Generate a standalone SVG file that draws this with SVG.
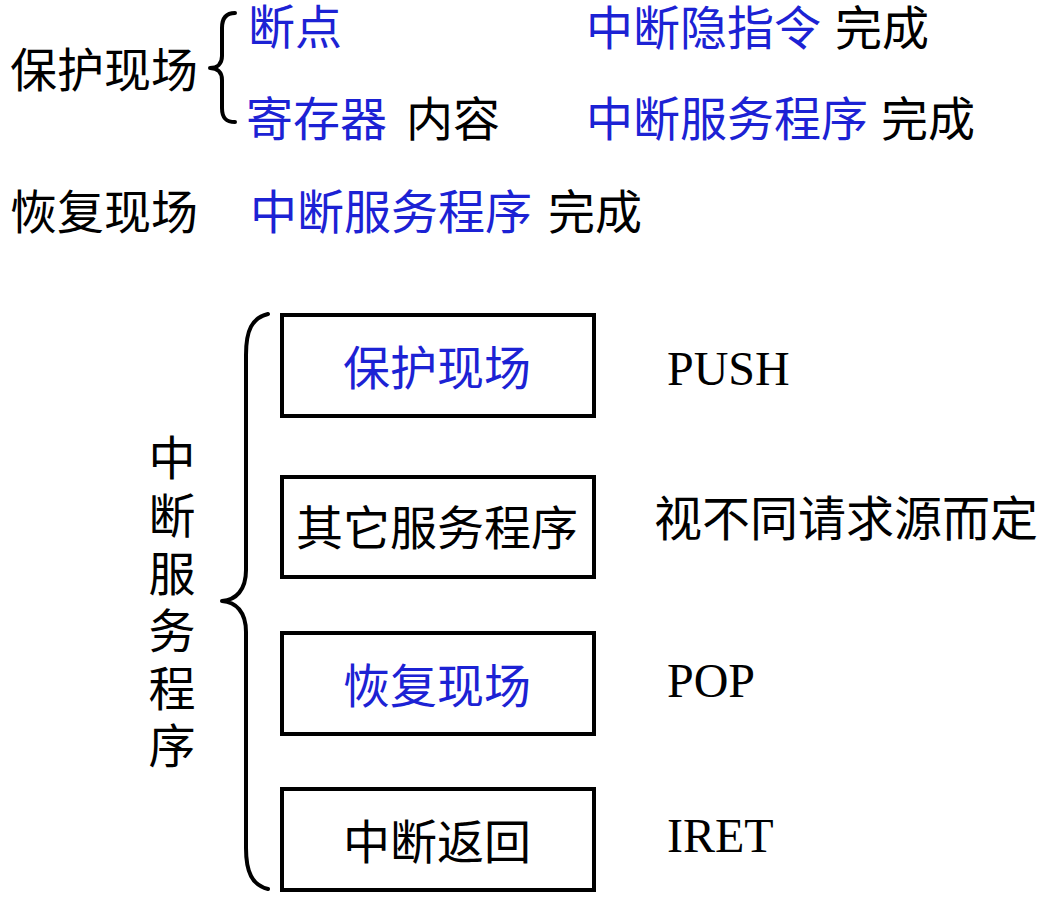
<svg xmlns="http://www.w3.org/2000/svg" width="1046" height="902" viewBox="0 0 1046 902">
  <style>
    .cjk { font-family: "Noto Sans CJK SC", "Noto Sans", sans-serif; font-size: 47px; fill: #000; }
    .blue { fill: #1c22d4; }
    .latin { font-family: "Liberation Serif", "Noto Sans CJK SC", serif; font-size: 48px; fill: #000; }
    .vert { writing-mode: vertical-rl; letter-spacing: 10.6px; }
    .box { fill: #fff; stroke: #000; stroke-width: 4; }
    .brace { fill: none; stroke: #000; stroke-width: 4; stroke-linecap: round; stroke-linejoin: round; }
  </style>
  <rect width="1046" height="902" fill="#fff"/>

  <!-- Upper part: what is saved and restored -->
  <g id="save-context">
    <text class="cjk" x="10" y="87">保护现场</text>
    <path class="brace" d="M235,13 C226,13 222,18 222,28 L222,56 C222,64 217,68 210,68 C217,68 222,72 222,80 L222,108 C222,118 226,122 235,122"/>
    <text class="cjk blue" x="248" y="44">断点</text>
    <text class="cjk" x="246" y="136"><tspan class="blue">寄存器</tspan><tspan x="406">内容</tspan></text>
    <text class="cjk" x="586" y="45"><tspan class="blue">中断隐指令</tspan><tspan x="835">完成</tspan></text>
    <text class="cjk" x="586" y="136"><tspan class="blue">中断服务程序</tspan><tspan x="881">完成</tspan></text>
  </g>
  <g id="restore-context">
    <text class="cjk" x="10" y="229">恢复现场</text>
    <text class="cjk" x="250" y="229"><tspan class="blue">中断服务程序</tspan><tspan x="548">完成</tspan></text>
  </g>

  <!-- Lower part: structure of the interrupt service routine -->
  <g id="isr-label">
    <text class="cjk vert" x="172" y="434">中断服务程序</text>
  </g>
  <g id="connectors">
    <path class="brace" d="M268,314 C252,318 246,330 246,355 L246,570 C246,590 236,600 222,601 C236,602 246,612 246,632 L246,848 C246,872 252,885 268,889"/>
  </g>

  <g id="step-save">
    <rect class="box" x="282" y="315" width="312" height="101"/>
    <text class="cjk blue" text-anchor="middle" x="437" y="385">保护现场</text>
    <text class="latin" x="667" y="385">PUSH</text>
  </g>
  <g id="step-service">
    <rect class="box" x="282" y="477" width="312" height="100"/>
    <text class="cjk" text-anchor="middle" x="437" y="545">其它服务程序</text>
    <text class="cjk" x="654" y="536" style="font-size:48px">视不同请求源而定</text>
  </g>
  <g id="step-restore">
    <rect class="box" x="282" y="633" width="312" height="101"/>
    <text class="cjk blue" text-anchor="middle" x="437" y="703">恢复现场</text>
    <text class="latin" x="667" y="697">POP</text>
  </g>
  <g id="step-return">
    <rect class="box" x="282" y="789" width="312" height="101"/>
    <text class="cjk" text-anchor="middle" x="437" y="859">中断返回</text>
    <text class="latin" x="667" y="852">IRET</text>
  </g>
</svg>
